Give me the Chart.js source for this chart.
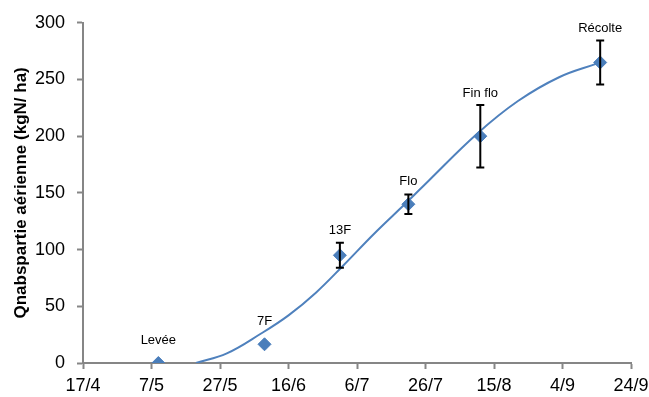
<!DOCTYPE html>
<html>
<head>
<meta charset="utf-8">
<script src="https://cdn.jsdelivr.net/npm/chart.js@4/dist/chart.umd.min.js"></script>
<style>
  html, body { margin: 0; padding: 0; background: #ffffff; }
  #wrap { width: 649px; height: 397px; position: relative; }
</style>
</head>
<body>
<div id="wrap"><canvas id="c"></canvas></div>
<script>
// Growth stages with measured N uptake (kgN/ha) and their spread
const stages = ['Levée', '7F', '13F', 'Flo', 'Fin flo', 'Récolte'];
const stageDates = ['9/5', '9/6', '1/7', '21/7', '11/8', '15/9'];
const qnValues = [0, 16.5, 95, 140, 200, 265];
const qnErrors = [0, 0, 11, 8.5, 27.5, 19.5];

// Fitted uptake curve
const fitDates = ['20/5', '29/5', '8/6', '16/6', '24/6', '2/7', '11/7', '21/7', '27/7', '10/8', '22/8', '3/9', '14/9'];
const fitValues = [0, 8.5, 26, 42, 62, 86, 114, 143, 161, 202, 231, 252, 264];

// Axis ticks
const xTickDates = ['17/4', '7/5', '27/5', '16/6', '6/7', '26/7', '15/8', '4/9', '24/9'];
const yTicks = [0, 50, 100, 150, 200, 250, 300];

const YEAR = 2013;
function dayOfYear(dm) {
  const [d, m] = dm.split('/').map(Number);
  const t = Date.UTC(YEAR, m - 1, d) - Date.UTC(YEAR, 0, 0);
  return Math.round(t / 86400000);
}
function dayLabel(doy) {
  const dt = new Date(Date.UTC(YEAR, 0, 0) + doy * 86400000);
  return dt.getUTCDate() + '/' + (dt.getUTCMonth() + 1);
}

const xTickDays = xTickDates.map(dayOfYear);
const stagePoints = stageDates.map((d, i) => ({ x: dayOfYear(d), y: qnValues[i] }));
const fitPoints = fitDates.map((d, i) => ({ x: dayOfYear(d), y: fitValues[i] }));

const AXIS_GREY = '#868686';
const BLUE = '#4F81BD';
const FONT = '"Liberation Sans", Arial, sans-serif';

// Error bars and stage names drawn on top of the markers
const stageDecor = {
  id: 'stageDecor',
  afterDatasetsDraw(chart) {
    const ctx = chart.ctx;
    const xs = chart.scales.x, ys = chart.scales.y;
    ctx.save();
    stagePoints.forEach((p, i) => {
      const px = xs.getPixelForValue(p.x);
      const py = ys.getPixelForValue(p.y);
      const err = qnErrors[i];
      let top = py;
      if (err > 0) {
        const yt = ys.getPixelForValue(p.y + err);
        const yb = ys.getPixelForValue(p.y - err);
        top = yt;
        ctx.strokeStyle = '#000000';
        ctx.lineWidth = 2;
        ctx.beginPath();
        ctx.moveTo(px, yt); ctx.lineTo(px, yb);
        ctx.moveTo(px - 4, yt); ctx.lineTo(px + 4, yt);
        ctx.moveTo(px - 4, yb); ctx.lineTo(px + 4, yb);
        ctx.stroke();
      }
      const ly = Math.min(py - 23, top - 12);
      ctx.fillStyle = '#000000';
      ctx.font = '13px ' + FONT;
      ctx.textAlign = 'center';
      ctx.textBaseline = 'middle';
      ctx.fillText(stages[i], px, ly);
    });
    ctx.restore();
  }
};

new Chart(document.getElementById('c'), {
  type: 'scatter',
  data: {
    datasets: [
      {
        label: 'Courbe',
        type: 'line',
        data: fitPoints,
        borderColor: BLUE,
        borderWidth: 2,
        pointRadius: 0,
        fill: false,
        tension: 0.4,
        order: 2
      },
      {
        label: 'Qnabs',
        data: stagePoints,
        pointStyle: 'rectRot',
        pointRadius: 6.5,
        pointHoverRadius: 6.5,
        backgroundColor: '#4A7EBB',
        borderColor: '#4A7EBB',
        borderWidth: 1,
        order: 1
      }
    ]
  },
  options: {
    responsive: true,
    maintainAspectRatio: false,
    animation: false,
    layout: { padding: { top: 22, right: 18, left: 0, bottom: 0 } },
    plugins: {
      legend: { display: false },
      tooltip: { enabled: false }
    },
    scales: {
      x: {
        type: 'linear',
        min: xTickDays[0],
        max: xTickDays[xTickDays.length - 1],
        afterBuildTicks(scale) {
          scale.ticks = xTickDays.map(v => ({ value: v }));
        },
        afterFit(scale) {
          scale.height = 34;
          scale.paddingRight = 0;
          scale.paddingLeft = 0;
        },
        grid: {
          display: true,
          drawOnChartArea: false,
          drawTicks: true,
          tickLength: 6,
          tickWidth: 2,
          tickColor: AXIS_GREY
        },
        border: { display: true, color: AXIS_GREY, width: 2 },
        ticks: {
          padding: 6,
          maxRotation: 0,
          autoSkip: false,
          color: '#000000',
          font: { family: FONT, size: 18 },
          callback: v => dayLabel(v)
        }
      },
      y: {
        min: yTicks[0],
        max: yTicks[yTicks.length - 1],
        afterBuildTicks(scale) {
          scale.ticks = yTicks.map(v => ({ value: v }));
        },
        afterFit(scale) { scale.width = 83; },
        grid: {
          display: true,
          drawOnChartArea: false,
          drawTicks: true,
          tickLength: 6,
          tickWidth: 2,
          tickColor: AXIS_GREY
        },
        border: { display: true, color: AXIS_GREY, width: 2 },
        ticks: {
          padding: 12,
          color: '#000000',
          font: { family: FONT, size: 18 }
        },
        title: {
          display: true,
          text: 'Qnabspartie aérienne (kgN/ ha)',
          color: '#000000',
          font: { family: FONT, size: 17, weight: 'bold' },
          padding: { top: 11, bottom: 4 }
        }
      }
    }
  },
  plugins: [stageDecor]
});
</script>
</body>
</html>
